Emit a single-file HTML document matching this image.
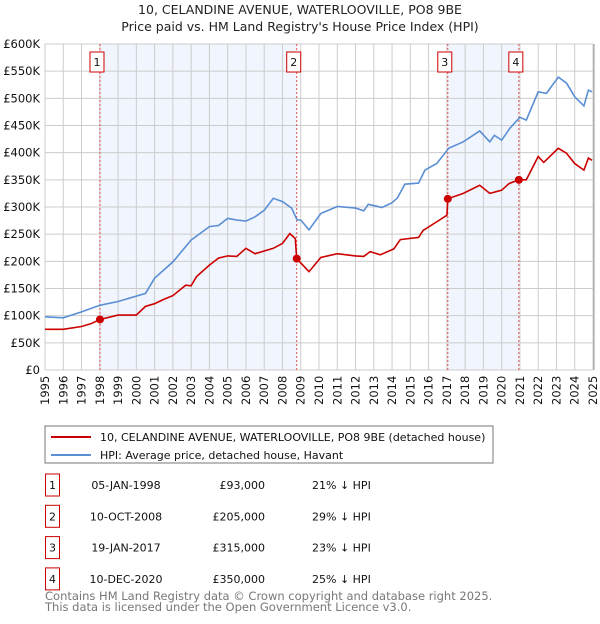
<!DOCTYPE html>
<html><head><meta charset="utf-8"><style>
body{margin:0;background:#fff;font-family:"DejaVu Sans","Liberation Sans",sans-serif;}
svg text{font-family:"DejaVu Sans","Liberation Sans",sans-serif;}
</style></head><body>
<svg id="c" width="600" height="620" viewBox="0 0 600 620">
<text x="300" y="14" text-anchor="middle" font-size="12.5" fill="#222">10, CELANDINE AVENUE, WATERLOOVILLE, PO8 9BE</text>
<text x="300" y="31" text-anchor="middle" font-size="12.5" fill="#222">Price paid vs. HM Land Registry's House Price Index (HPI)</text>
<g id="plot"></g>
<rect x="45" y="426" width="448" height="37" fill="#fff" stroke="#777"/>
<line x1="51" y1="437" x2="91" y2="437" stroke="#cc0000" stroke-width="2"/>
<text x="100" y="441" font-size="11" fill="#111">10, CELANDINE AVENUE, WATERLOOVILLE, PO8 9BE (detached house)</text>
<line x1="51" y1="455" x2="91" y2="455" stroke="#5b8fd4" stroke-width="2"/>
<text x="100" y="459" font-size="11" fill="#111">HPI: Average price, detached house, Havant</text>
<g id="table" font-size="11" fill="#111"></g>
<text x="45" y="600" font-size="11.5" fill="#777">Contains HM Land Registry data © Crown copyright and database right 2025.</text>
<text x="45" y="611" font-size="11.5" fill="#777">This data is licensed under the Open Government Licence v3.0.</text>
</svg>
<script>
const yearTicks=[1995,1996,1997,1998,1999,2000,2001,2002,2003,2004,2005,2006,2007,2008,2009,2010,2011,2012,2013,2014,2015,2016,2017,2018,2019,2020,2021,2022,2023,2024,2025];
const priceTicks=[0,50,100,150,200,250,300,350,400,450,500,550,600];
const priceLabels=["£0","£50K","£100K","£150K","£200K","£250K","£300K","£350K","£400K","£450K","£500K","£550K","£600K"];
const hpiYears=[1995,1996,1997,1998,1999,2000,2000.5,2001,2002,2003,2004,2004.5,2005,2005.5,2006,2006.5,2007,2007.5,2008,2008.5,2008.8,2009.0,2009.45,2010.1,2011.0,2012.0,2012.45,2012.7,2013.45,2014.0,2014.3,2014.7,2015.45,2015.8,2016.45,2017.1,2017.9,2018.8,2019.35,2019.6,2020.0,2020.45,2021.0,2021.35,2022.0,2022.45,2023.1,2023.55,2024.0,2024.5,2024.75,2024.95];
const hpiValues=[98,96,107,119,126,136,141,169,199,239,264,266,279,276,274,282,294,316,310,298,276,276,258,288,301,298,293,305,299,308,317,342,344,368,380,408,420,440,420,432,423,445,465,460,512,509,539,528,503,486,515,512];
const redYears=[1995,1996,1997,1997.5,1998.01,1999,2000,2000.5,2001,2001.5,2002,2002.7,2003,2003.3,2004,2004.5,2005,2005.5,2006,2006.5,2007,2007.5,2008,2008.4,2008.7,2008.78,2009.45,2010.1,2011.0,2012.0,2012.45,2012.8,2013.35,2014.1,2014.45,2015.45,2015.7,2016.6,2017.0,2017.05,2017.9,2018.8,2019.35,2020.0,2020.4,2020.94,2021.35,2022.0,2022.3,2023.1,2023.55,2024.0,2024.5,2024.75,2024.95];
const redValues=[75,75,80,85,93,101,101,117,122,130,137,156,155,172,193,206,210,209,224,214,219,224,233,251,242,205,181,207,214,210,209,218,212,223,240,244,257,276,285,315,325,340,325,331,343,350,350,393,382,408,399,380,368,390,386];
const saleIds=["1","2","3","4"];
const saleYears=[1998.01,2008.78,2017.05,2020.94];
const saleValues=[93,205,315,350];
const saleDates=["05-JAN-1998","10-OCT-2008","19-JAN-2017","10-DEC-2020"];
const salePrices=["£93,000","£205,000","£315,000","£350,000"];
const saleHpi=["21% ↓ HPI","29% ↓ HPI","23% ↓ HPI","25% ↓ HPI"];

const X0=45,X1=593,Y0=370,Y1=44;
const xs=y=>X0+(y-1995)/30*(X1-X0);
const ys=v=>Y0-v/600*(Y0-Y1);
const NS="http://www.w3.org/2000/svg";
const plot=document.getElementById('plot');
function mk(t,a,p){const e=document.createElementNS(NS,t);for(const k in a)e.setAttribute(k,a[k]);(p||plot).appendChild(e);return e;}

let bg=mk('rect',{x:X0,y:Y1,width:X1-X0+1,height:Y0-Y1,fill:'#fff'});


[[0,1],[2,3]].forEach(([a,b],i)=>{
  const r=mk('rect',{x:xs(saleYears[a]),y:Y1,width:xs(saleYears[b])-xs(saleYears[a]),height:Y0-Y1,fill:'#eef3fc',opacity:0.8});
  
  
});
yearTicks.forEach(y=>{
  const l=mk('line',{x1:xs(y),x2:xs(y),y1:Y1,y2:Y0,stroke:'#cccccc','stroke-width':1});
  
  
  const t=mk('text',{transform:`translate(${xs(y)+4},${Y0+35}) rotate(-90)`,'font-size':11.5,fill:'#111'});
  t.textContent=y;
  
  
});
priceTicks.forEach((v,i)=>{
  const l=mk('line',{x1:X0,x2:X1,y1:ys(v),y2:ys(v),stroke:'#cccccc','stroke-width':1});
  
  
  const t=mk('text',{x:40,y:ys(v)+4,'text-anchor':'end','font-size':11.5,fill:'#111'});
  t.textContent=priceLabels[i];
  
  
});
let edge=mk('line',{x1:X1+1,x2:X1+1,y1:Y1,y2:Y0,stroke:'#999','stroke-width':1});


saleYears.forEach((y,i)=>{
  const l=mk('line',{x1:xs(y),x2:xs(y),y1:Y1,y2:Y0,stroke:'#e05050','stroke-width':1,'stroke-dasharray':'2,2'});
  
  
  const b=mk('rect',{x:xs(y)-10,y:52,width:14,height:20,fill:'#fff',stroke:'#cc0000'});
  
  
  const t=mk('text',{x:xs(y)-3,y:66,'text-anchor':'middle','font-size':11,fill:'#111'});
  t.textContent=saleIds[i];
  
  
});
function pts(xa,va){return xa.map((y,i)=>xs(y).toFixed(1)+','+ys(va[i]).toFixed(1)).join(' ');}
let hp=mk('polyline',{points:pts(hpiYears,hpiValues),fill:'none',stroke:'#5b8fd4','stroke-width':1.6});


let rp=mk('polyline',{points:pts(redYears,redValues),fill:'none',stroke:'#cc0000','stroke-width':1.6});


saleYears.forEach((y,i)=>{
  const c=mk('circle',{cx:xs(y),cy:ys(saleValues[i]),r:4,fill:'#cc0000'});
  
  
});
const tb=document.getElementById('table');
saleIds.forEach((id,i)=>{
  const cy=484+i*31.3;
  const b=mk('rect',{x:45.5,y:cy-10,width:14,height:22,fill:'#fff',stroke:'#cc0000'},tb);
  
  
  const cells=[[52.5,'middle',id,'table-id'],[126,'middle',saleDates[i],'table-date'],[265,'end',salePrices[i],'table-price'],[312,'start',saleHpi[i],'table-hpi-diff']];
  cells.forEach(([x,a,txt,n])=>{
    const t=mk('text',{x:x,y:cy+5,'text-anchor':a},tb);
    t.textContent=txt;
    
    
  });
});
</script>
</body></html>
